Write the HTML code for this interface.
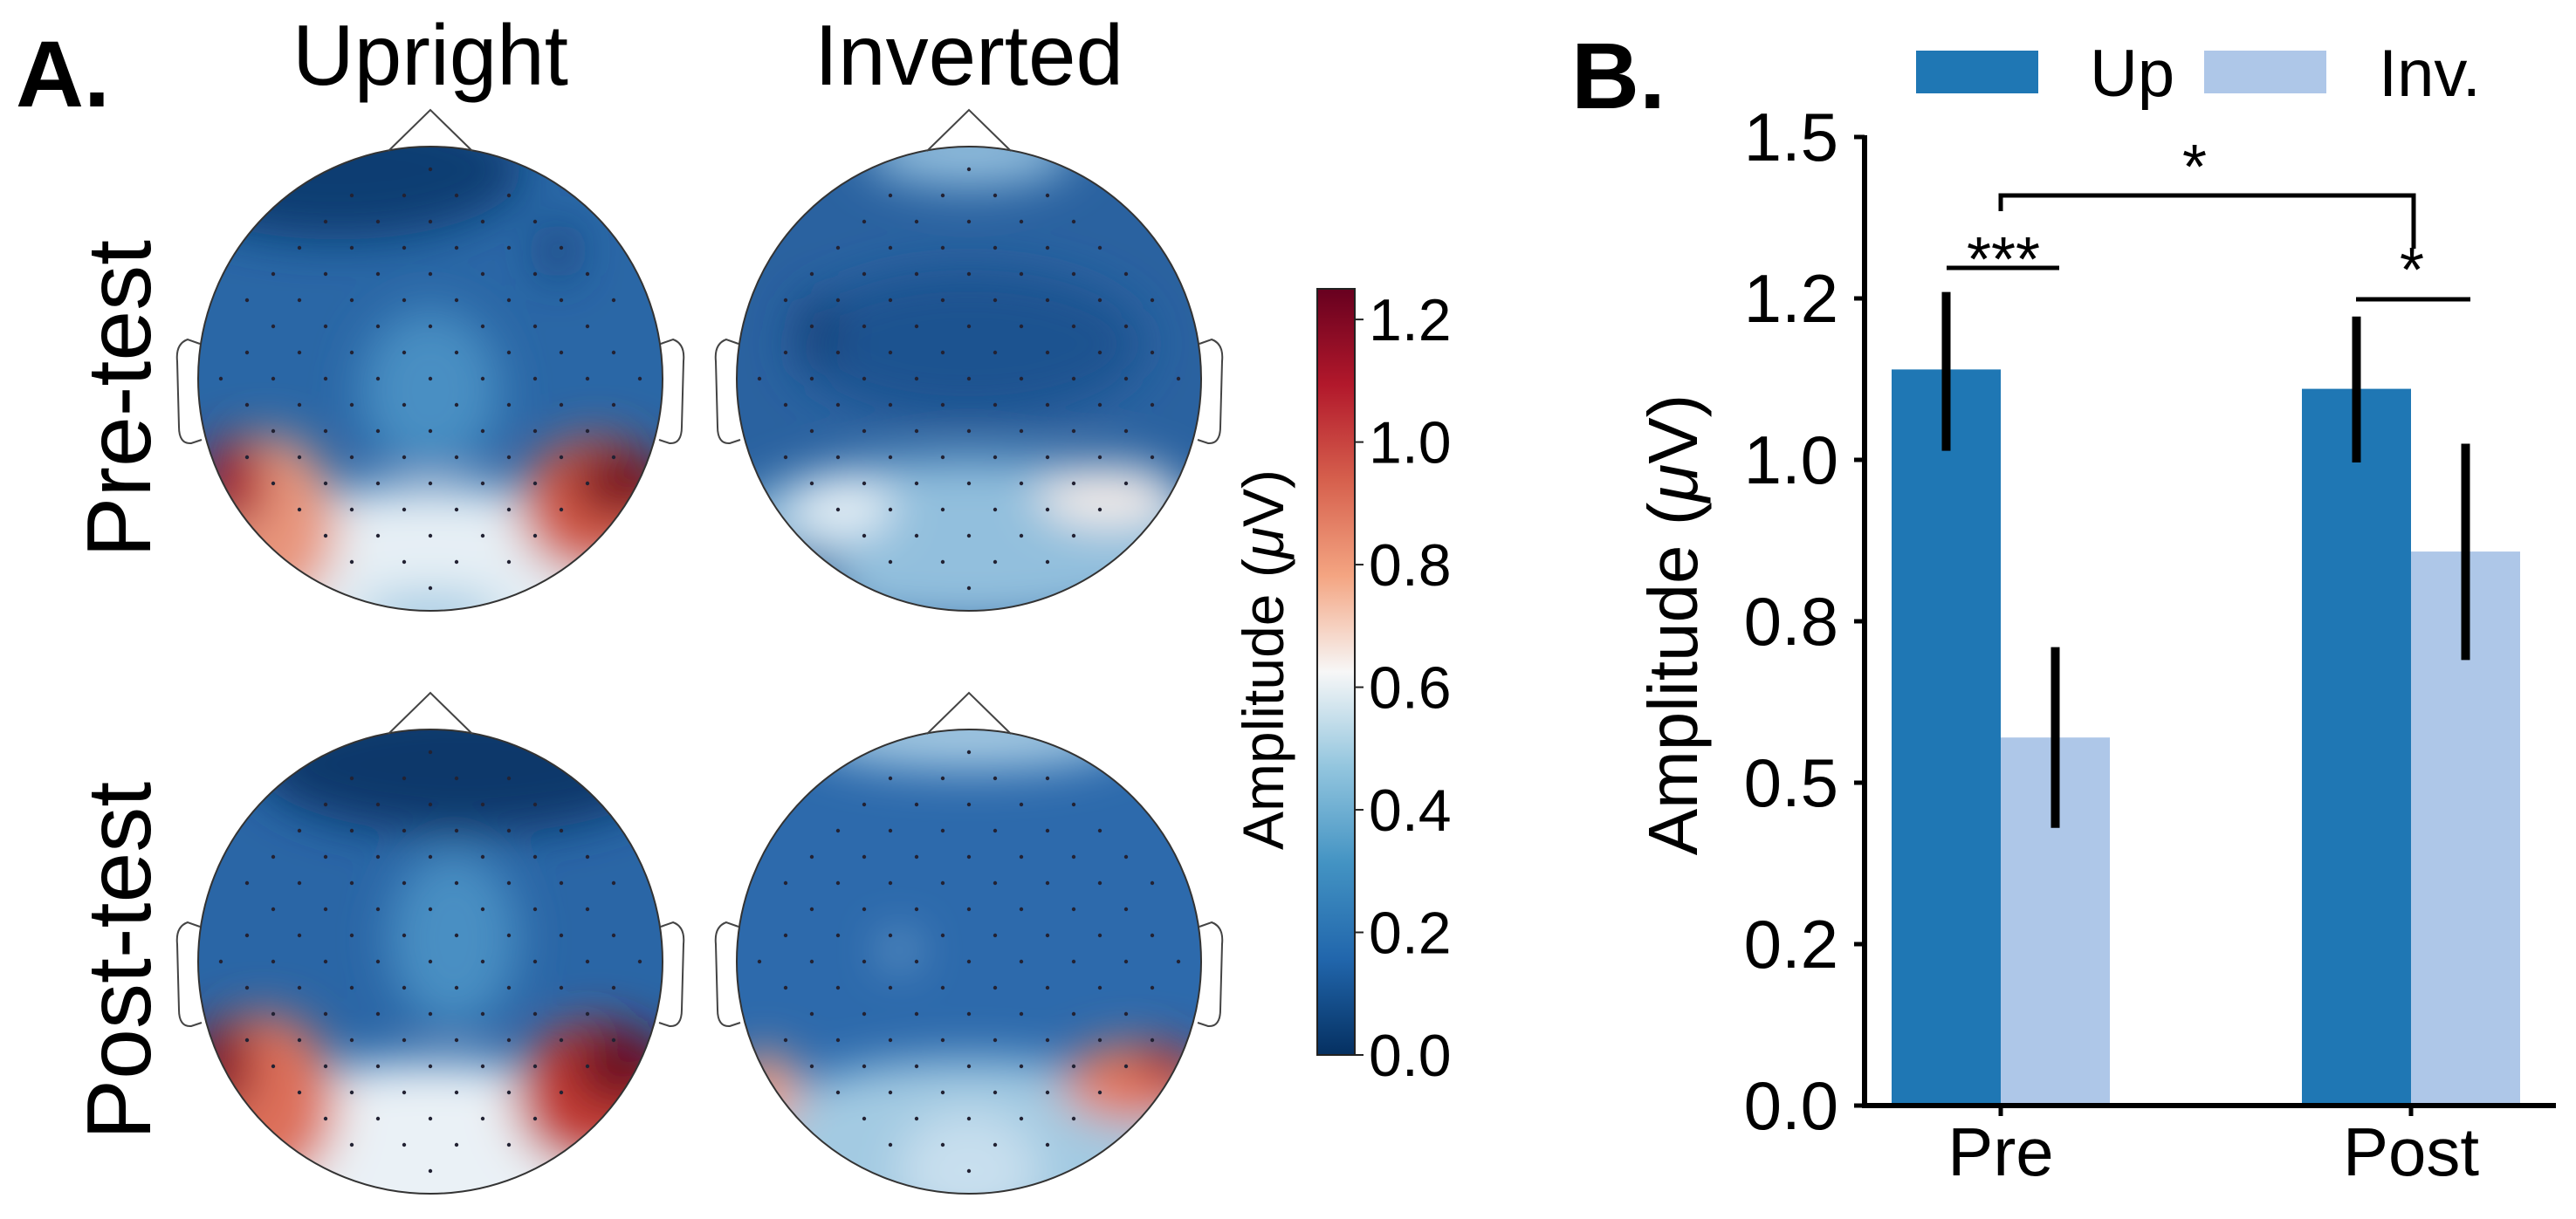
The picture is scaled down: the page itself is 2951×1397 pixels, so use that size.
<!DOCTYPE html>
<html><head><meta charset="utf-8"><style>
html,body{margin:0;padding:0;background:#fff;}
svg{display:block;font-family:"Liberation Sans","DejaVu Sans",sans-serif;}
</style></head><body>
<svg id="fig" width="2951" height="1397" viewBox="0 0 2951 1397" xmlns="http://www.w3.org/2000/svg">
<defs>
<filter id="blur" x="-50%" y="-50%" width="200%" height="200%"><feGaussianBlur stdDeviation="26"/></filter>
<linearGradient id="cbar" x1="0" y1="1" x2="0" y2="0">
<stop offset="0" stop-color="#053061"/><stop offset="0.125" stop-color="#2166ac"/><stop offset="0.25" stop-color="#4393c3"/><stop offset="0.375" stop-color="#92c5de"/><stop offset="0.5" stop-color="#f7f7f7"/><stop offset="0.625" stop-color="#f4a582"/><stop offset="0.75" stop-color="#d6604d"/><stop offset="0.875" stop-color="#b2182b"/><stop offset="1" stop-color="#67001f"/>
</linearGradient>
</defs>
<g id="panelA">
<text x="18" y="122" font-size="108" font-weight="bold">A.</text>
<text x="493" y="97" font-size="98" text-anchor="middle">Upright</text>
<text x="1110" y="97" font-size="98" text-anchor="middle">Inverted</text>
<text transform="translate(172,457) rotate(-90)" font-size="104" text-anchor="middle">Pre-test</text>
<text transform="translate(172,1101) rotate(-90)" font-size="104" text-anchor="middle">Post-test</text>
<g id="maps"></g>
<rect x="1509" y="331" width="43" height="878" fill="url(#cbar)" stroke="#222" stroke-width="2"/>
<g id="cbticks"></g>
<text transform="translate(1470,756) rotate(-90)" font-size="66" text-anchor="middle">Amplitude (<tspan font-style="italic">μ</tspan>V)</text>
</g>
<g id="panelB">
<text x="1800" y="124" font-size="108" font-weight="bold">B.</text>
<g id="bars"></g>
</g>
</svg>
<script>
const NS='http://www.w3.org/2000/svg';
function mk(tag,attrs,parent){const e=document.createElementNS(NS,tag);for(const k in attrs)e.setAttribute(k,attrs[k]);parent.appendChild(e);return e;}

/* ---------- Topomaps ---------- */
const mapCenters=[[493,434,'pre-upright'],[1110,434,'pre-inverted'],[493,1102,'post-upright'],[1110,1102,'post-inverted']];
const mapBases=['#2a67a6','#2a62a0','#2a66a6','#2d6aac'];
const mapBlobs=[
 [[-0.4,-0.9,0.8,0.3,'#113d72'],[0,0.05,0.3,0.35,'#4a8fc3'],[0,0.88,1.1,0.42,'#e6eff5'],[0,1.02,0.32,0.1,'#9ec9e2'],[-0.7,0.62,0.3,0.38,'#e8957c'],[-0.85,0.45,0.14,0.2,'#a51b2d'],[0.72,0.55,0.34,0.3,'#d35c4a'],[0.82,0.45,0.22,0.15,'#76091f'],[0.55,-0.55,0.07,0.12,'#153f78']],
 [[0,-0.98,0.45,0.15,'#92bedd'],[0,-0.15,0.75,0.32,'#1e5290'],[0,0.7,1.1,0.36,'#92bfdd'],[-0.55,0.55,0.22,0.13,'#e6f0f6'],[0.6,0.5,0.3,0.13,'#f6eeea'],[-0.75,0.9,0.22,0.15,'#1f5896'],[-0.65,-0.2,0.08,0.15,'#143e74']],
 [[0.15,-0.85,0.9,0.3,'#0c376a'],[0.1,-0.1,0.28,0.38,'#4a8fc3'],[0,0.85,1.1,0.42,'#eaf1f6'],[-0.72,0.6,0.32,0.38,'#dd705a'],[-0.9,0.45,0.14,0.2,'#8b1526'],[0.72,0.58,0.36,0.32,'#c43c35'],[0.82,0.45,0.22,0.17,'#6a0820']],
 [[0,-0.98,0.7,0.15,'#a6cbe3'],[0,0.8,1.0,0.38,'#a3cae2'],[0,0.9,0.3,0.25,'#c8dfee'],[-0.88,0.55,0.15,0.16,'#f29c7e'],[0.72,0.52,0.32,0.17,'#e4785d'],[0.85,0.45,0.13,0.09,'#b0262d'],[-0.3,-0.05,0.06,0.06,'#9cc6e0']]
];
const R=266;
const maps=document.getElementById('maps');
mapCenters.forEach((c,i)=>{
  const [cx,cy,name]=c;
  const g=mk('g',{},maps);
  
  
  const cp=mk('clipPath',{id:'clip'+i},g);
  mk('circle',{cx:cx,cy:cy,r:R},cp);
  const inner=mk('g',{'clip-path':'url(#clip'+i+')'},g);
  mk('rect',{x:cx-R,y:cy-R,width:2*R,height:2*R,fill:mapBases[i]},inner);
  const bg=mk('g',{filter:'url(#blur)'},inner);
  mapBlobs[i].forEach(b=>{mk('ellipse',{cx:cx+b[0]*R,cy:cy+b[1]*R,rx:b[2]*R,ry:b[3]*R,fill:b[4]},bg);});
  for(let yy=-8;yy<=8;yy++)for(let xx=-8;xx<=8;xx++){
    const px=xx*30,py=yy*30;
    if(px*px+py*py<(R-25)*(R-25)&&(xx+yy)%2===0) mk('circle',{cx:cx+px,cy:cy+py,r:2.2,fill:'#223'},inner);
  }
  const head=mk('circle',{cx:cx,cy:cy,r:R,fill:'none',stroke:'#333',"stroke-width":2},g);
  
  
  mk('path',{d:`M${cx-48},${cy-R+5} L${cx},${cy-R-42} L${cx+48},${cy-R+5}`,fill:'none',stroke:'#444','stroke-width':2},g);
  mk('path',{d:`M${cx-R+2},${cy-40} L${cx-R-12},${cy-45} Q${cx-R-26},${cy-40} ${cx-R-24},${cy-20} L${cx-R-22},${cy+55} Q${cx-R-22},${cy+75} ${cx-R-8},${cy+74} L${cx-R+4},${cy+70}`,fill:'none',stroke:'#444','stroke-width':2},g);
  mk('path',{d:`M${cx+R-2},${cy-40} L${cx+R+12},${cy-45} Q${cx+R+26},${cy-40} ${cx+R+24},${cy-20} L${cx+R+22},${cy+55} Q${cx+R+22},${cy+75} ${cx+R+8},${cy+74} L${cx+R-4},${cy+70}`,fill:'none',stroke:'#444','stroke-width':2},g);
});

/* ---------- Colorbar ticks ---------- */
const cbTicks=[0.0,0.2,0.4,0.6,0.8,1.0,1.2];
const cbMin=0,cbMax=1.25,cbTop=331,cbBot=1209;
const cbY=v=>cbBot-(v-cbMin)/(cbMax-cbMin)*(cbBot-cbTop);
const cbt=document.getElementById('cbticks');
cbTicks.forEach(v=>{
  const y=cbY(v);
  mk('line',{x1:1552,x2:1562,y1:y,y2:y,stroke:'#222','stroke-width':2},cbt);
  const t=mk('text',{x:1568,y:y+24,'font-size':68},cbt);
  t.textContent=v.toFixed(1);
  
  
});

/* ---------- Bar chart ---------- */
const categories=['Pre','Post'];
const upValues=[1.14,1.11];
const upErrLow=[1.014,0.996];
const upErrHigh=[1.26,1.222];
const invValues=[0.57,0.858];
const invErrLow=[0.43,0.69];
const invErrHigh=[0.71,1.025];
const yTicks=[0,0.25,0.5,0.75,1.0,1.25,1.5];
const yTickLabels=['0.0','0.2','0.5','0.8','1.0','1.2','1.5'];

const Y0=1267,Y1=157,YMAX=1.5;
const yS=v=>Y0-v/YMAX*(Y0-Y1);
const groupCenters=[2292,2762];
const barW=125;
const bars=document.getElementById('bars');
const axX=2136;
yTicks.forEach((v,i)=>{
  const y=yS(v);
  mk('line',{x1:axX-12,x2:axX,y1:y,y2:y,stroke:'#000','stroke-width':5},bars);
  const t=mk('text',{x:2106,y:y+27,'font-size':78,'text-anchor':'end'},bars);
  t.textContent=yTickLabels[i];
  
  
});
categories.forEach((c,i)=>{
  const gx=groupCenters[i];
  const r1=mk('rect',{x:gx-barW,y:yS(upValues[i]),width:barW,height:yS(0)-yS(upValues[i]),fill:'#1f77b4'},bars);
  
  
  const r2=mk('rect',{x:gx,y:yS(invValues[i]),width:barW,height:yS(0)-yS(invValues[i]),fill:'#aec7e8'},bars);
  
  
  const e1=mk('line',{x1:gx-barW/2,x2:gx-barW/2,y1:yS(upErrLow[i]),y2:yS(upErrHigh[i]),stroke:'#000','stroke-width':10},bars);
  
  
  const e2=mk('line',{x1:gx+barW/2,x2:gx+barW/2,y1:yS(invErrLow[i]),y2:yS(invErrHigh[i]),stroke:'#000','stroke-width':10},bars);
  
  
  mk('line',{x1:gx,x2:gx,y1:Y0,y2:Y0+12,stroke:'#000','stroke-width':5},bars);
  const t=mk('text',{x:gx,y:1347,'font-size':78,'text-anchor':'middle'},bars);
  t.textContent=c;
  
  
});
const yax=mk('line',{x1:axX,x2:axX,y1:Y1-2,y2:Y0+2,stroke:'#000','stroke-width':6},bars);


const xax=mk('line',{x1:axX-3,x2:2928,y1:Y0,y2:Y0,stroke:'#000','stroke-width':6},bars);


const yl=mk('text',{transform:'translate(1944,716) rotate(-90)','font-size':80,'text-anchor':'middle'},bars);
yl.innerHTML='Amplitude (<tspan font-style="italic">μ</tspan>V)';


/* significance brackets */
const sig=mk('g',{stroke:'#000','stroke-width':5,fill:'none'},bars);


mk('line',{x1:2230,x2:2359,y1:307,y2:307},sig);
mk('path',{d:'M2292,242 L2292,224 L2765,224 L2765,285'},sig);
mk('line',{x1:2699,x2:2830,y1:343,y2:343},sig);
[['***',2295,322],['*',2514,216],['*',2763,334]].forEach(s=>{
  const t=mk('text',{x:s[1],y:s[2],'font-size':72,'text-anchor':'middle'},bars);
  t.textContent=s[0];
  
  
});
/* legend */
const lg=mk('g',{},bars);


mk('rect',{x:2195,y:58,width:140,height:49,fill:'#1f77b4'},lg);
const l1=mk('text',{x:2394,y:110,'font-size':76},lg);l1.textContent='Up';


mk('rect',{x:2525,y:58,width:140,height:49,fill:'#aec7e8'},lg);
const l2=mk('text',{x:2725,y:110,'font-size':76},lg);l2.textContent='Inv.';


</script>
</body></html>
